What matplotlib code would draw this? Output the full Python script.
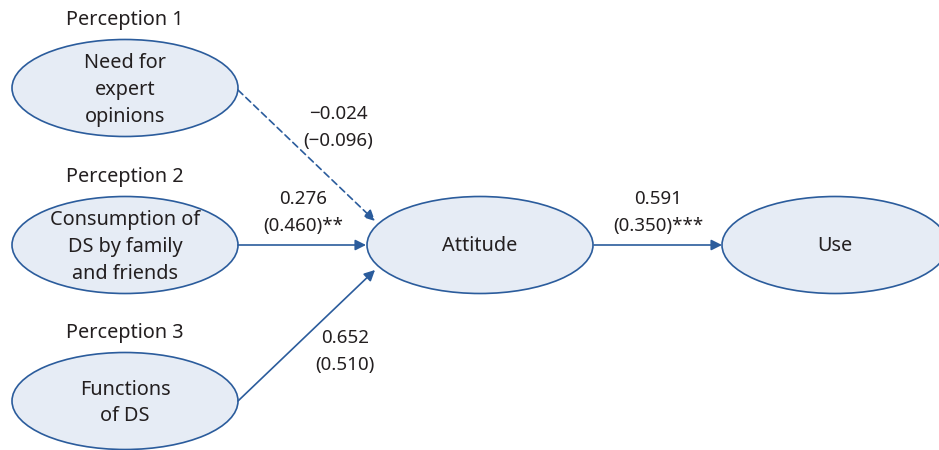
import matplotlib.pyplot as plt
from matplotlib.patches import Ellipse, FancyArrowPatch

# node labels
perceptions = ['Perception 1', 'Perception 2', 'Perception 3']
source_labels = ['Need for\nexpert\nopinions', 'Consumption of\nDS by family\nand friends', 'Functions\nof DS']
target_labels = ['Attitude', 'Use']

# path coefficients (unstandardized / standardized with significance)
coef = ['\u22120.024', '0.276', '0.652', '0.591']
coef_std = ['(\u22120.096)', '(0.460)**', '(0.510)', '(0.350)***']
dashed = [True, False, False, False]

plt.rcParams['font.family'] = ['Noto Sans', 'DejaVu Sans']
edge_col = '#2b5c9c'
fill_col = '#e6ecf5'
text_col = '#231f20'

fig = plt.figure(figsize=(9.39, 4.5), dpi=100)
ax = fig.add_axes([0, 0, 1, 1])
ax.set_xlim(0, 939)
ax.set_ylim(450, 0)
ax.axis('off')

ew, eh = 226, 97
src_xy = [(125, 88), (125, 245), (125, 401)]
tgt_xy = [(480, 245), (835, 245)]
fs = 14.3

for (x, y), lab, per in zip(src_xy, source_labels, perceptions):
    ax.add_patch(Ellipse((x, y), ew, eh, facecolor=fill_col, edgecolor=edge_col, lw=1.2))
    ax.text(x, y + 2, lab, ha='center', va='center', fontsize=fs, color=text_col, linespacing=1.45)
    ax.text(x, y - 68, per, ha='center', va='center', fontsize=fs, color=text_col)

for (x, y), lab in zip(tgt_xy, target_labels):
    ax.add_patch(Ellipse((x, y), ew, eh, facecolor=fill_col, edgecolor=edge_col, lw=1.2))
    ax.text(x, y + 1, lab, ha='center', va='center', fontsize=fs, color=text_col)

# arrows: start, end
arrows = [((238, 90), (375, 221)),
          ((238, 245), (366, 245)),
          ((238, 401), (375, 270)),
          ((594, 245), (722, 245))]
label_pos = [(338, 127), (303, 212), (345, 351), (658, 212)]

for (p0, p1), dsh, c, cs, (lx, ly) in zip(arrows, dashed, coef, coef_std, label_pos):
    ax.add_patch(FancyArrowPatch(p0, p1, arrowstyle='-|>', mutation_scale=16,
                                 color=edge_col, lw=1.2,
                                 linestyle=(0, (4, 2.5)) if dsh else '-',
                                 shrinkA=0, shrinkB=0))
    ax.text(lx, ly - 13, c, ha='center', va='center', fontsize=13.5, color=text_col)
    ax.text(lx, ly + 14, cs, ha='center', va='center', fontsize=13.5, color=text_col)

fig.savefig('out.png', dpi=100)
